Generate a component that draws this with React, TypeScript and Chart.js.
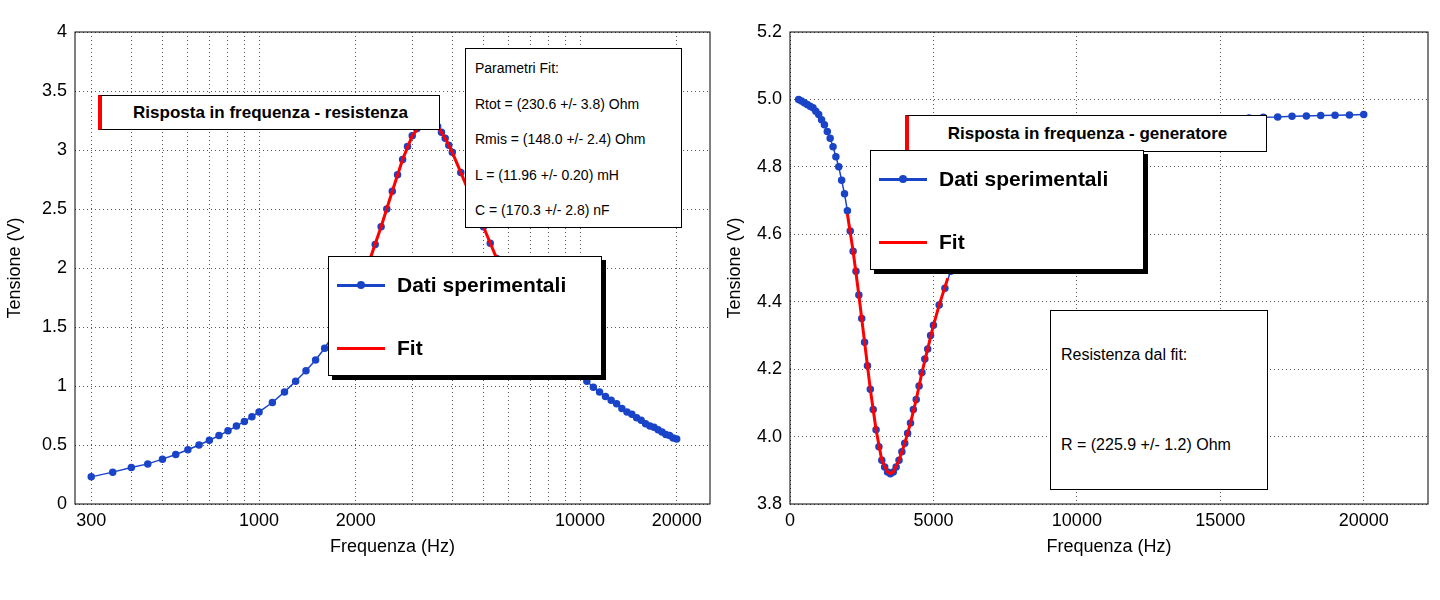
import { Chart, registerables } from 'chart.js';
import React, { useEffect, useRef } from 'react';

Chart.register(...registerables);

const resFreq = [300, 350, 400, 450, 500, 550, 600, 650, 700, 750, 800, 850, 900, 950, 1000, 1100, 1200, 1300, 1400, 1500, 1600, 1700, 1800, 1900, 2000, 2100, 2200, 2300, 2400, 2500, 2600, 2700, 2800, 2900, 3000, 3100, 3200, 3300, 3400, 3500, 3600, 3700, 3800, 3900, 4000, 4250, 4500, 4750, 5000, 5250, 5500, 5750, 6000, 6500, 7000, 7500, 8000, 8500, 9000, 9500, 10000, 10500, 11000, 11500, 12000, 12500, 13000, 13500, 14000, 14500, 15000, 15500, 16000, 16500, 17000, 17500, 18000, 18500, 19000, 19500, 20000];
const resVolt = [0.23, 0.27, 0.31, 0.34, 0.38, 0.42, 0.46, 0.50, 0.54, 0.58, 0.62, 0.66, 0.70, 0.74, 0.78, 0.86, 0.95, 1.04, 1.13, 1.22, 1.32, 1.43, 1.55, 1.66, 1.78, 1.91, 2.05, 2.20, 2.35, 2.50, 2.65, 2.79, 2.92, 3.03, 3.12, 3.18, 3.22, 3.24, 3.25, 3.23, 3.20, 3.15, 3.10, 3.04, 2.98, 2.81, 2.65, 2.49, 2.35, 2.21, 2.08, 1.97, 1.88, 1.72, 1.58, 1.47, 1.37, 1.28, 1.21, 1.15, 1.09, 1.04, 0.99, 0.95, 0.91, 0.88, 0.85, 0.81, 0.78, 0.76, 0.73, 0.71, 0.68, 0.66, 0.65, 0.63, 0.61, 0.59, 0.58, 0.56, 0.55];
const resFitFreq = [2000, 2200, 2400, 2600, 2800, 3000, 3200, 3400, 3600, 3800, 4000, 4500, 5000, 5500, 6000];
const resFitVolt = [1.78, 2.05, 2.35, 2.65, 2.92, 3.12, 3.22, 3.25, 3.20, 3.10, 2.98, 2.65, 2.35, 2.08, 1.88];

const genFreq = [300, 400, 500, 600, 700, 800, 900, 1000, 1100, 1200, 1300, 1400, 1500, 1600, 1700, 1800, 1900, 2000, 2100, 2200, 2300, 2400, 2500, 2600, 2700, 2800, 2900, 3000, 3100, 3200, 3300, 3400, 3500, 3600, 3700, 3800, 3900, 4000, 4100, 4200, 4300, 4400, 4500, 4600, 4700, 4800, 4900, 5000, 5200, 5400, 5600, 5800, 6000, 6500, 7000, 7500, 8000, 8500, 9000, 9500, 10000, 10500, 11000, 11500, 12000, 12500, 13000, 13500, 14000, 14500, 15000, 15500, 16000, 16500, 17000, 17500, 18000, 18500, 19000, 19500, 20000];
const genVolt = [5.0, 4.995, 4.99, 4.985, 4.98, 4.975, 4.965, 4.955, 4.94, 4.925, 4.905, 4.885, 4.86, 4.83, 4.8, 4.76, 4.72, 4.67, 4.61, 4.55, 4.49, 4.42, 4.35, 4.28, 4.21, 4.14, 4.08, 4.02, 3.97, 3.93, 3.91, 3.895, 3.89, 3.895, 3.91, 3.93, 3.955, 3.98, 4.01, 4.04, 4.08, 4.11, 4.15, 4.19, 4.23, 4.26, 4.3, 4.33, 4.39, 4.44, 4.49, 4.53, 4.57, 4.64, 4.7, 4.75, 4.79, 4.82, 4.84, 4.86, 4.87, 4.88, 4.89, 4.9, 4.91, 4.915, 4.92, 4.925, 4.93, 4.935, 4.94, 4.942, 4.945, 4.947, 4.948, 4.95, 4.951, 4.952, 4.953, 4.954, 4.955];
const genFitFreq = [2000, 2200, 2400, 2600, 2800, 3000, 3200, 3400, 3500, 3600, 3800, 4000, 4200, 4400, 4600, 4800, 5000, 5200, 5500];
const genFitVolt = [4.66, 4.55, 4.42, 4.28, 4.14, 4.02, 3.93, 3.895, 3.89, 3.895, 3.93, 3.98, 4.04, 4.11, 4.19, 4.26, 4.33, 4.39, 4.47];

const logTicks = [300, 400, 500, 600, 700, 800, 900, 1000, 2000, 3000, 4000, 5000, 6000, 7000, 8000, 9000, 10000, 20000];
const logLabels = [300, 1000, 2000, 10000, 20000];

const FONT = 'Liberation Sans, Arial, sans-serif';
const BLUE = '#1a44c8';
const RED = '#ff0000';

const frame = {
  id: 'frame',
  afterDraw(c: any) {
    const a = c.chartArea;
    c.ctx.save();
    c.ctx.strokeStyle = '#000';
    c.ctx.lineWidth = 1;
    c.ctx.strokeRect(a.left, a.top, a.right - a.left, a.bottom - a.top);
    c.ctx.restore();
  },
};

function makeConfig(xs: number[], ys: number[], fx: number[], fy: number[], log: boolean, yw: number): any {
  const grid = { color: '#555', drawTicks: false };
  const border = { display: false, dash: [1, 3] };
  const tickFont = { family: FONT, size: 18 };
  const xTitle = { display: true, text: 'Frequenza (Hz)', color: '#000', font: tickFont, padding: { top: 6 } };
  const yTitle = { display: true, text: 'Tensione (V)', color: '#000', font: tickFont };
  return {
    type: 'scatter',
    data: {
      datasets: [
        { data: fx.map((x, i) => ({ x, y: fy[i] })), showLine: true, borderColor: RED, borderWidth: 3, pointRadius: 0, order: 0 },
        { data: xs.map((x, i) => ({ x, y: ys[i] })), showLine: true, borderColor: BLUE, backgroundColor: BLUE, borderWidth: 1.5, pointRadius: 3, order: 1 },
      ],
    },
    options: {
      animation: false,
      responsive: false,
      layout: { padding: { top: 32, right: log ? 10 : 12, bottom: 38 } },
      plugins: { legend: { display: false }, tooltip: { enabled: false } },
      scales: log
        ? {
            x: {
              type: 'logarithmic', min: 267, max: 25400,
              afterBuildTicks: (s: any) => { s.ticks = logTicks.map((v) => ({ value: v })); },
              ticks: { autoSkip: false, maxRotation: 0, color: '#000', font: tickFont, padding: 6, callback: (v: number) => (logLabels.includes(v) ? String(v) : '') },
              grid, border, title: xTitle,
              afterFit: (s: any) => { s.height = 58; },
            },
            y: {
              min: 0, max: 4,
              ticks: { stepSize: 0.5, color: '#000', font: tickFont, padding: 8, callback: (v: number) => String(v) },
              grid, border, title: yTitle,
              afterFit: (s: any) => { s.width = yw; },
            },
          }
        : {
            x: {
              min: 0, max: 22240,
              afterBuildTicks: (s: any) => { s.ticks = [0, 5000, 10000, 15000, 20000].map((v) => ({ value: v })); },
              ticks: { maxRotation: 0, color: '#000', font: tickFont, padding: 6, callback: (v: number) => String(v) },
              grid, border, title: xTitle,
              afterFit: (s: any) => { s.height = 58; },
            },
            y: {
              min: 3.8, max: 5.2,
              ticks: { stepSize: 0.2, color: '#000', font: tickFont, padding: 8, callback: (v: number) => v.toFixed(1) },
              grid, border, title: yTitle,
              afterFit: (s: any) => { s.width = yw; },
            },
          },
    },
    plugins: [frame],
  };
}

function Panel(props: { cfg: any; left: number }) {
  const ref = useRef<HTMLCanvasElement>(null);
  useEffect(() => {
    const ch = new Chart(ref.current!, props.cfg);
    return () => ch.destroy();
  }, []);
  return <canvas ref={ref} width={720} height={600} style={{ position: 'absolute', left: props.left, top: 0 }} />;
}

const box = (l: number, t: number, w: number, h: number, extra: any = {}): any => ({
  position: 'absolute', left: l, top: t, width: w, height: h, background: '#fff', border: '1px solid #000', boxSizing: 'border-box', fontFamily: FONT, color: '#000', ...extra,
});

function TitleBox(props: { l: number; t: number; w: number; h: number; text: string }) {
  return (
    <div style={box(props.l, props.t, props.w, props.h, { borderLeft: '4px solid ' + RED, fontWeight: 'bold', fontSize: 17, display: 'flex', alignItems: 'center', justifyContent: 'center' })}>
      {props.text}
    </div>
  );
}

function Legend(props: { l: number; t: number }) {
  const row = (top: number, color: string, marker: boolean, text: string) => (
    <div style={{ position: 'absolute', left: 8, top: top - 14, height: 28, display: 'flex', alignItems: 'center' }}>
      <div style={{ position: 'relative', width: 48, height: 3, background: color }}>
        {marker && <div style={{ position: 'absolute', left: 20, top: -3, width: 8, height: 8, borderRadius: 4, background: color }} />}
      </div>
      <span style={{ marginLeft: 12, fontWeight: 'bold', fontSize: 21 }}>{text}</span>
    </div>
  );
  return (
    <div style={box(props.l, props.t, 274, 120, { boxShadow: '4px 4px 0 #000' })}>
      {row(28, BLUE, true, 'Dati sperimentali')}
      {row(91, RED, false, 'Fit')}
    </div>
  );
}

export default function App() {
  const params = ['Parametri Fit:', 'Rtot = (230.6 +/- 3.8) Ohm', 'Rmis = (148.0 +/- 2.4) Ohm', 'L = (11.96 +/- 0.20) mH', 'C = (170.3 +/- 2.8) nF'];
  return (
    <div style={{ position: 'fixed', left: 0, top: 0, width: 1440, height: 600, background: '#fff', overflow: 'hidden' }}>
      <Panel cfg={makeConfig(resFreq, resVolt, resFitFreq, resFitVolt, true, 75)} left={0} />
      <Panel cfg={makeConfig(genFreq, genVolt, genFitFreq, genFitVolt, false, 70)} left={720} />
      <TitleBox l={98} t={95} w={342} h={35} text="Risposta in frequenza - resistenza" />
      <div style={box(465, 48, 217, 180, { fontSize: 14 })}>
        {params.map((p, i) => (
          <div key={i} style={{ position: 'absolute', left: 9, top: 11 + i * 35.5 }}>{p}</div>
        ))}
      </div>
      <Legend l={328} t={256} />
      <TitleBox l={905} t={115} w={362} h={37} text="Risposta in frequenza - generatore" />
      <Legend l={870} t={150} />
      <div style={box(1050, 310, 218, 180, { fontSize: 16 })}>
        <div style={{ position: 'absolute', left: 10, top: 35 }}>Resistenza dal fit:</div>
        <div style={{ position: 'absolute', left: 10, top: 125 }}>R = (225.9 +/- 1.2) Ohm</div>
      </div>
    </div>
  );
}
